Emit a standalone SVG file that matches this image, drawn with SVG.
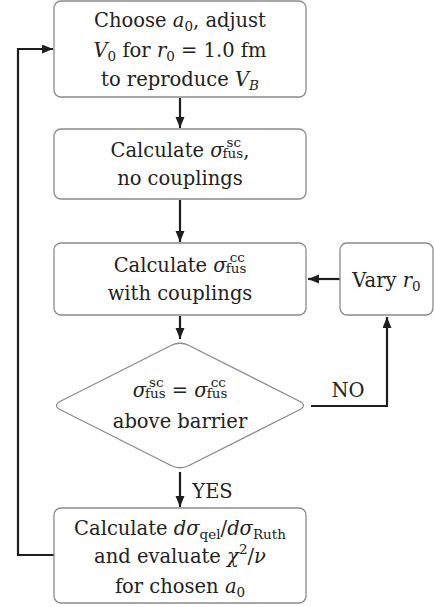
<svg xmlns="http://www.w3.org/2000/svg" width="434" height="607" viewBox="0 0 434 607">
<defs>
<marker id="ah" markerUnits="userSpaceOnUse" markerWidth="12" markerHeight="10" refX="11" refY="4.5" orient="auto">
<path d="M0,0 L11,4.5 L0,9 z" fill="#1e1e1e" stroke="none"/>
</marker>
</defs>
<rect width="434" height="607" fill="#ffffff"/>
<g id="connectors">
<g fill="none" stroke="#1e1e1e" stroke-width="2.2">
<line x1="180" y1="98" x2="180" y2="128" marker-end="url(#ah)"/>
<line x1="180" y1="200" x2="180" y2="242" marker-end="url(#ah)"/>
<line x1="180" y1="316" x2="180" y2="339" marker-end="url(#ah)"/>
<line x1="180" y1="472" x2="180" y2="507" marker-end="url(#ah)"/>
<line x1="340" y1="279" x2="308" y2="279" marker-end="url(#ah)"/>
<polyline points="311,406 387,406 387,317" marker-end="url(#ah)"/>
<polyline points="54,555 18,555 18,49 53,49" marker-end="url(#ah)"/>
</g>
<text x="348" y="397" style="font-family:'DejaVu Serif','Liberation Serif',serif;font-size:19.5px;fill:#222222;text-anchor:middle">NO</text>
<text x="212.5" y="498" style="font-family:'DejaVu Serif','Liberation Serif',serif;font-size:19.5px;fill:#222222;text-anchor:middle">YES</text>
</g>
<g id="start">
<rect x="54" y="1" width="252" height="96" rx="7" fill="#ffffff" stroke="#8a8a8a" stroke-width="1.3"/>
<text x="180" y="27" style="font-family:'DejaVu Serif','Liberation Serif',serif;font-size:19.5px;fill:#222222;text-anchor:middle">Choose <tspan font-style="italic">a</tspan><tspan font-size="13.5" dy="3.5">0</tspan><tspan dy="-3.5">, adjust</tspan></text>
<text x="180" y="57" style="font-family:'DejaVu Serif','Liberation Serif',serif;font-size:19.5px;fill:#222222;text-anchor:middle"><tspan font-style="italic">V</tspan><tspan font-size="13.5" dy="3.5">0</tspan><tspan dy="-3.5"> for </tspan><tspan font-style="italic">r</tspan><tspan font-size="13.5" dy="3.5">0</tspan><tspan dy="-3.5"> = 1.0 fm</tspan></text>
<text x="180" y="86" style="font-family:'DejaVu Serif','Liberation Serif',serif;font-size:19.5px;fill:#222222;text-anchor:middle">to reproduce <tspan font-style="italic">V</tspan><tspan font-size="13.5" font-style="italic" dy="3.5">B</tspan></text>
</g>
<g id="calc-sc">
<rect x="54" y="129" width="252" height="70" rx="7" fill="#ffffff" stroke="#8a8a8a" stroke-width="1.3"/>
<text x="180" y="157" style="font-family:'DejaVu Serif','Liberation Serif',serif;font-size:19.5px;fill:#222222;text-anchor:middle">Calculate <tspan font-style="italic">σ</tspan><tspan font-size="13.5" dx="3" dy="-10">sc</tspan><tspan font-size="13.5" dx="-18.5" dy="11">fus</tspan><tspan dy="-1">,</tspan></text>
<text x="180" y="185" style="font-family:'DejaVu Serif','Liberation Serif',serif;font-size:19.5px;fill:#222222;text-anchor:middle">no couplings</text>
</g>
<g id="calc-cc">
<rect x="54" y="243" width="252" height="72" rx="7" fill="#ffffff" stroke="#8a8a8a" stroke-width="1.3"/>
<text x="180" y="272" style="font-family:'DejaVu Serif','Liberation Serif',serif;font-size:19.5px;fill:#222222;text-anchor:middle">Calculate <tspan font-style="italic">σ</tspan><tspan font-size="13.5" dx="3" dy="-10">cc</tspan><tspan font-size="13.5" dx="-19.1" dy="11">fus</tspan></text>
<text x="180" y="300" style="font-family:'DejaVu Serif','Liberation Serif',serif;font-size:19.5px;fill:#222222;text-anchor:middle">with couplings</text>
</g>
<g id="vary">
<rect x="340" y="243" width="93" height="72" rx="7" fill="#ffffff" stroke="#8a8a8a" stroke-width="1.3"/>
<text x="386.5" y="287" style="font-family:'DejaVu Serif','Liberation Serif',serif;font-size:19.5px;fill:#222222;text-anchor:middle">Vary <tspan font-style="italic">r</tspan><tspan font-size="13.5" dy="3.5">0</tspan></text>
</g>
<g id="decision">
<path d="M171.07,345.5 Q180,341 188.93,345.5 L299.07,401 Q308,405.5 299.07,410 L188.93,465.5 Q180,470 171.07,465.5 L60.93,410 Q52,405.5 60.93,401 Z" fill="#ffffff" stroke="#8a8a8a" stroke-width="1.3"/>
<text x="180" y="397" style="font-family:'DejaVu Serif','Liberation Serif',serif;font-size:19.5px;fill:#222222;text-anchor:middle"><tspan font-style="italic">σ</tspan><tspan font-size="13.5" dx="3" dy="-10">sc</tspan><tspan font-size="13.5" dx="-18.5" dy="11">fus</tspan><tspan dy="-1"> = </tspan><tspan font-style="italic">σ</tspan><tspan font-size="13.5" dx="3" dy="-10">cc</tspan><tspan font-size="13.5" dx="-19.1" dy="11">fus</tspan></text>
<text x="180" y="428" style="font-family:'DejaVu Serif','Liberation Serif',serif;font-size:19.5px;fill:#222222;text-anchor:middle">above barrier</text>
</g>
<g id="calc-chi">
<rect x="54" y="508" width="252" height="95" rx="7" fill="#ffffff" stroke="#8a8a8a" stroke-width="1.3"/>
<text x="180" y="535" style="font-family:'DejaVu Serif','Liberation Serif',serif;font-size:19.5px;fill:#222222;text-anchor:middle">Calculate <tspan font-style="italic">dσ</tspan><tspan font-size="13.5" dy="3.5">qel</tspan><tspan dy="-3.5">/</tspan><tspan font-style="italic">dσ</tspan><tspan font-size="13.5" dy="3.5">Ruth</tspan></text>
<text x="180" y="563" style="font-family:'DejaVu Serif','Liberation Serif',serif;font-size:19.5px;fill:#222222;text-anchor:middle">and evaluate <tspan font-style="italic">χ</tspan><tspan font-size="13.5" dy="-9">2</tspan><tspan dy="9">/</tspan><tspan font-style="italic">ν</tspan></text>
<text x="180" y="593" style="font-family:'DejaVu Serif','Liberation Serif',serif;font-size:19.5px;fill:#222222;text-anchor:middle">for chosen <tspan font-style="italic">a</tspan><tspan font-size="13.5" dy="3.5">0</tspan></text>
</g>
</svg>
